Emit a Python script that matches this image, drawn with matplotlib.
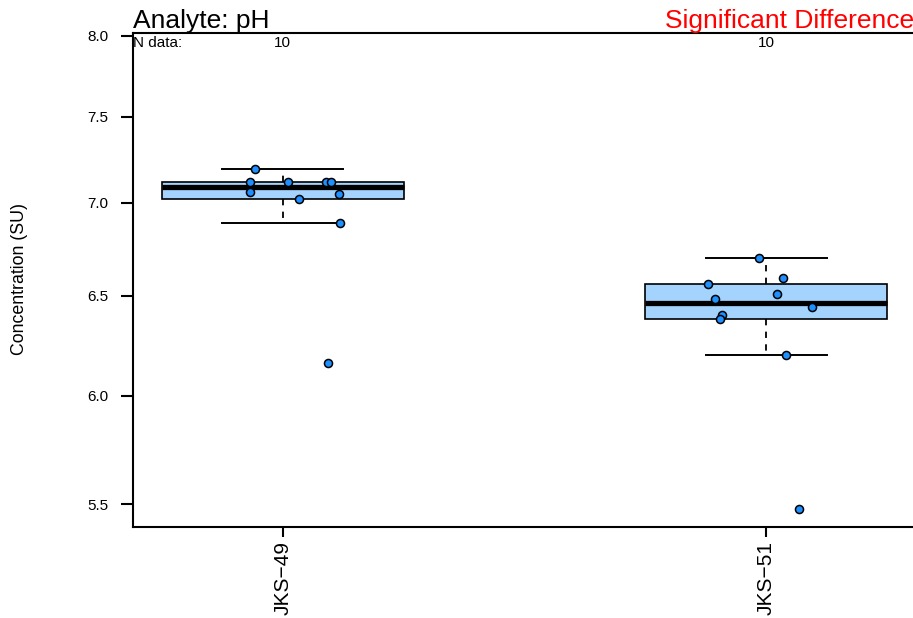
import matplotlib

matplotlib.use("Agg")
import matplotlib.pyplot as plt
import numpy as np
from matplotlib.ticker import FixedLocator, FormatStrFormatter, NullLocator

plt.rcParams["font.family"] = ["Liberation Sans", "DejaVu Sans"]

# values
SITES = ["JKS\u221249", "JKS\u221251"]
PH_JKS49 = [7.19, 7.12, 7.12, 7.12, 7.12, 7.06, 7.05, 7.02, 6.89, 6.16]
PH_JKS51 = [6.70, 6.59, 6.56, 6.51, 6.48, 6.44, 6.40, 6.38, 6.20, 5.48]
# horizontal jitter of each point, same order as the values
JITTER_JKS49 = [-0.057, -0.067, 0.010, 0.090, 0.100, -0.068, 0.116, 0.033, 0.118, 0.094]
JITTER_JKS51 = [-0.014, 0.035, -0.121, 0.022, -0.107, 0.095, -0.091, -0.095, 0.041, 0.068]
Y_TICKS = [5.5, 6.0, 6.5, 7.0, 7.5, 8.0]

BOX_FILL = "#A4D3FE"
POINT_FILL = "#1E90FF"


def tukey_stats(values, coef=1.5):
    """Five number summary the way R's boxplot does it (hinges)."""
    v = np.sort(np.asarray(values, dtype=float))
    n = len(v)
    n4 = np.floor((n + 3) / 2) / 2
    idx = np.array([1, n4, (n + 1) / 2, n + 1 - n4, n]) - 1
    five = 0.5 * (v[np.floor(idx).astype(int)] + v[np.ceil(idx).astype(int)])
    q1, med, q3 = five[1], five[2], five[3]
    iqr = q3 - q1
    inside = v[(v >= q1 - coef * iqr) & (v <= q3 + coef * iqr)]
    return {
        "med": med,
        "q1": q1,
        "q3": q3,
        "whislo": inside.min(),
        "whishi": inside.max(),
        "fliers": [],
    }


fig = plt.figure(figsize=(9.13, 6.18), dpi=100)
# the plot region runs a little past the right edge of the picture
ax = fig.add_axes([133 / 913, 1 - 527.3 / 618, 786 / 913, 494.6 / 618])

groups = [PH_JKS49, PH_JKS51]
jitters = [JITTER_JKS49, JITTER_JKS51]
positions = np.arange(1, len(SITES) + 1)

ax.bxp(
    [tukey_stats(g) for g in groups],
    positions=positions,
    widths=0.5,
    capwidths=0.25,
    patch_artist=True,
    showfliers=False,
    boxprops=dict(facecolor=BOX_FILL, edgecolor="black", linewidth=1.2),
    medianprops=dict(color="black", linewidth=3.8, solid_capstyle="butt"),
    whiskerprops=dict(color="black", linewidth=1.3, linestyle=(0, (3.5, 3.5))),
    capprops=dict(color="black", linewidth=1.4),
    zorder=2,
)

for pos, vals, jit in zip(positions, groups, jitters):
    ax.plot(
        pos + np.asarray(jit),
        vals,
        linestyle="none",
        marker="o",
        markersize=5.8,
        markerfacecolor=POINT_FILL,
        markeredgecolor="black",
        markeredgewidth=1.1,
        zorder=4,
        clip_on=False,
    )

ax.set_yscale("log")
ax.set_ylim(5.40, 8.021)
ax.set_xlim(0.69, 2.316)
ax.yaxis.set_major_locator(FixedLocator(Y_TICKS))
ax.yaxis.set_major_formatter(FormatStrFormatter("%.1f"))
ax.yaxis.set_minor_locator(NullLocator())

ax.set_xticks(positions)
ax.set_xticklabels(SITES, rotation=90, fontsize=15)

for side in ["left", "top", "bottom", "right"]:
    ax.spines[side].set_linewidth(1.5)

ax.tick_params(axis="y", labelsize=11, length=9, width=1.5, pad=9)
ax.tick_params(axis="x", length=7, width=1.5, pad=3)

# annotations above and inside the plot area
fig.text(133 / 913, 1 - 28.3 / 618, "Analyte: pH", fontsize=19, va="baseline")
fig.text(
    665 / 913,
    1 - 28.3 / 618,
    "Significant Difference",
    fontsize=19,
    color="red",
    va="baseline",
)
fig.text(133 / 913, 1 - 46.7 / 618, "N data:", fontsize=11, va="baseline")
for pos, vals in zip(positions, groups):
    ax.text(
        pos,
        1 - 14 / 494.6,
        str(len(vals)),
        transform=ax.get_xaxis_transform(),
        fontsize=11,
        ha="center",
        va="baseline",
    )

fig.text(
    19 / 913,
    1 - 279 / 618,
    "Concentration (SU)",
    rotation=90,
    fontsize=12.8,
    ha="center",
    va="center",
)

fig.savefig("out.png", dpi=100)
